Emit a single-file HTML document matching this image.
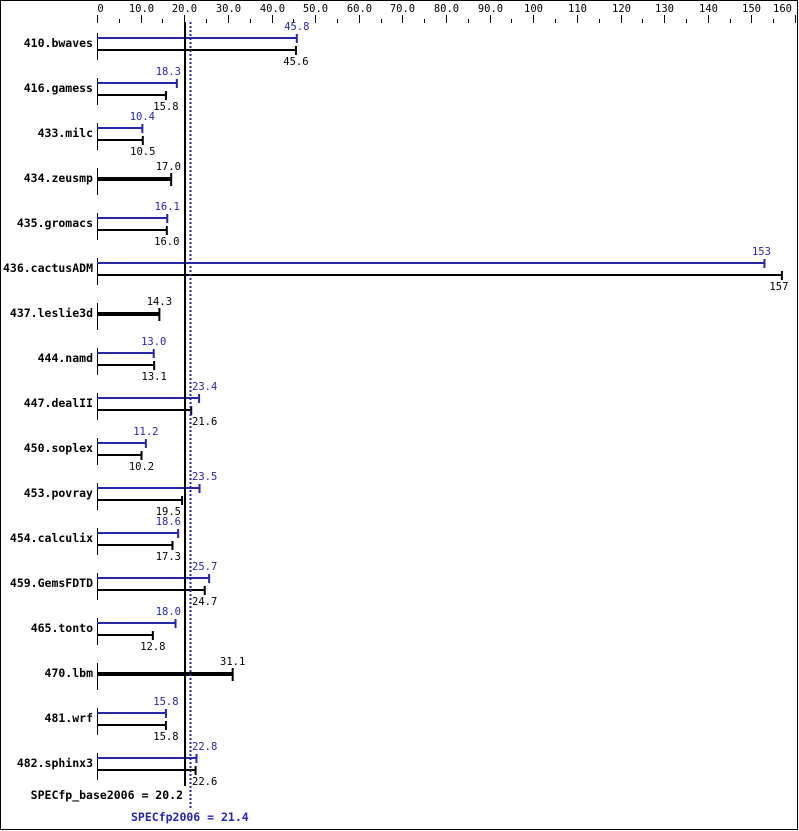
<!DOCTYPE html>
<html><head><meta charset="utf-8"><style>
html,body{margin:0;padding:0;background:#fff}
svg{display:block}
text{font-family:"DejaVu Sans Mono","Liberation Mono",monospace;font-size:10.5px}
.n{font-weight:bold;text-anchor:end;font-size:11.5px}
.b{fill:#2626a8}
</style></head><body>
<svg id="s" width="799" height="831" xmlns="http://www.w3.org/2000/svg"></svg>
<script>
const s=document.getElementById('s');let h='';
const X=v=>97+4.3625*v;
h+='<rect x="0.5" y="0.5" width="797" height="829" fill="none" stroke="#000"/>';
for(let v=0;v<=160;v+=5){const x=Math.round(X(v))+0.5;const maj=v%10==0;
h+=`<line x1="${x}" x2="${x}" y1="${maj?15:19}" y2="23" stroke="#000"/>`;
if(maj){const t=v==0?'0':(v<100?v.toFixed(1):String(v));
let xx=x,a='middle';if(v==0){xx=x+3;}if(v==160){xx=792;a='end';}
h+=`<text x="${xx}" y="12" text-anchor="${a}">${t}</text>`;}}
const d=[["410.bwaves",45.8,45.6],["416.gamess",18.3,15.8],["433.milc",10.4,10.5],["434.zeusmp",null,17.0],["435.gromacs",16.1,16.0],["436.cactusADM",153,157],["437.leslie3d",null,14.3],["444.namd",13.0,13.1],["447.dealII",23.4,21.6],["450.soplex",11.2,10.2],["453.povray",23.5,19.5],["454.calculix",18.6,17.3],["459.GemsFDTD",25.7,24.7],["465.tonto",18.0,12.8],["470.lbm",null,31.1],["481.wrf",15.8,15.8],["482.sphinx3",22.8,22.6]];
const fmt=v=>v>=100?String(v):v.toFixed(1);
function lab(v,y,cls){const e=X(v);const t=fmt(v);const w=t.length*6.3;let x=e,a='middle';
if(e>=185&&e<215){x=192;a='start';}
else if(e<185&&e+w/2>181){x=181;a='end';}
if(v>150){x=e-3;}
return `<text x="${x}" y="${y}" text-anchor="${a}" ${cls=='b'?'class="b"':''}>${t}</text>`;}
d.forEach((r,i)=>{const c=43+45*i;
h+=`<text class="n" x="93" y="${c+4}">${r[0]}</text>`;
h+=`<line x1="97.5" x2="97.5" y1="${c-10}" y2="${c+17}" stroke="#000"/>`;
if(r[1]==null){const e=X(r[2]);
h+=`<rect x="97" y="${c-1}" width="${e-97}" height="4" fill="#000"/>`;
h+=`<line x1="${e}" x2="${e}" y1="${c-5}" y2="${c+8}" stroke="#000" stroke-width="2"/>`;
h+=lab(r[2],c-8,'k');}
else{const eb=X(r[1]),ek=X(r[2]);
h+=`<rect x="97" y="${c-6}" width="${eb-97}" height="2" fill="#2626a8"/>`;
h+=`<line x1="${eb}" x2="${eb}" y1="${c-9}" y2="${c}" stroke="#2626a8" stroke-width="2"/>`;
h+=`<rect x="97" y="${c+6}" width="${ek-97}" height="2" fill="#000"/>`;
h+=`<line x1="${ek}" x2="${ek}" y1="${c+3}" y2="${c+12}" stroke="#000" stroke-width="2"/>`;
h+=lab(r[1],c-13,'b');h+=lab(r[2],c+22,'k');}
});
h+='<line x1="185" x2="185" y1="22" y2="786" stroke="#000" stroke-width="2"/>';
h+='<line x1="190.5" x2="190.5" y1="22" y2="808" stroke="#2626a8" stroke-width="2" stroke-dasharray="2,2"/>';
h+='<text x="183" y="799" text-anchor="end" font-weight="bold" style="font-size:11.5px">SPECfp_base2006 = 20.2</text>';
h+='<text class="b" x="131" y="821" font-weight="bold" style="font-size:11.5px">SPECfp2006 = 21.4</text>';
s.innerHTML=h;
</script>
</body></html>
